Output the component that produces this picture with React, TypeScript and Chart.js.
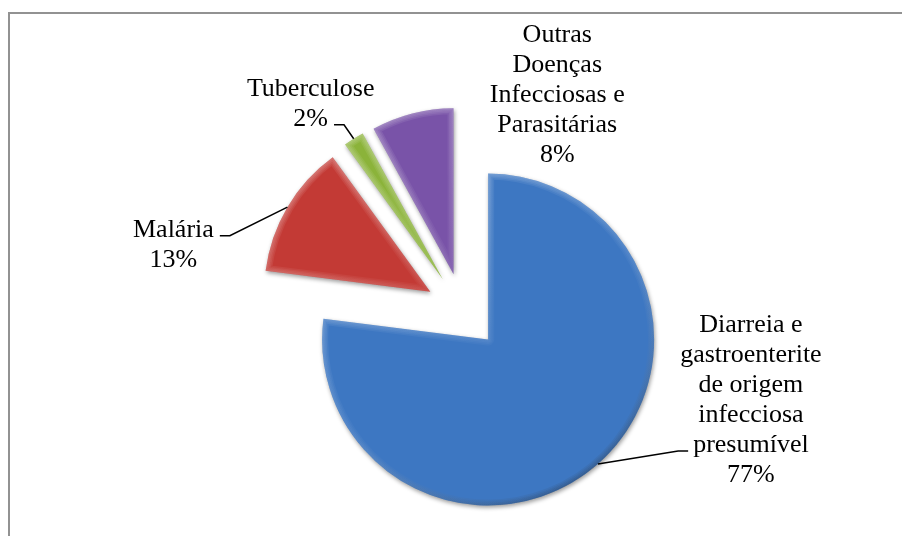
import React, { useEffect, useRef } from "react";
import { Chart, registerables } from "chart.js";

Chart.register(...registerables);

// ---- data ----
const categories = [
  "Diarreia e gastroenterite de origem infecciosa presumível",
  "Malária",
  "Tuberculose",
  "Outras Doenças Infecciosas e Parasitárias",
];
const labelLines = [
  ["Diarreia e", "gastroenterite", "de origem", "infecciosa", "presumível"],
  ["Malária"],
  ["Tuberculose"],
  ["Outras", "Doenças", "Infecciosas e", "Parasitárias"],
];
const values = [77, 13, 2, 8];
const colors = ["#3d77c2", "#c33a35", "#8bb33a", "#7953a8"];

// ---- layout / style ----
const W = 902;
const H = 536;
const EXPLODE = 38;
const FONT = "26px 'Liberation Serif', 'Times New Roman', serif";
const LINE_H = 30;
// label placement relative to the outer mid-point of each slice
const LABEL_LAYOUT = [
  { dx: 153, dy: -132, leader: 4 },
  { dx: -114, dy: 29.5, leader: 0 },
  { dx: -43, dy: -43, leader: 1 },
  { dx: 145, dy: -71, leader: -1 },
];

type Geom = { cx: number; cy: number; r: number; s: number; e: number; mid: number; ox: number; oy: number };

function computeGeoms(chart: any): Geom[] {
  const meta = chart.getDatasetMeta(0);
  return meta.data.map((el: any) => {
    const mid = (el.startAngle + el.endAngle) / 2;
    return {
      cx: el.x + Math.cos(mid) * EXPLODE,
      cy: el.y + Math.sin(mid) * EXPLODE,
      r: el.outerRadius,
      s: el.startAngle,
      e: el.endAngle,
      mid,
      ox: el.x,
      oy: el.y,
    };
  });
}

function slicePath(ctx: CanvasRenderingContext2D, g: Geom) {
  ctx.beginPath();
  ctx.moveTo(g.cx, g.cy);
  ctx.arc(g.cx, g.cy, g.r, g.s, g.e);
  ctx.closePath();
}

const explodePlugin = {
  id: "explodeBevel",
  beforeDatasetDraw(chart: any, args: any) {
    const geoms = computeGeoms(chart);
    chart.$geoms = geoms;
    args.meta.data.forEach((el: any, i: number) => {
      el.x = geoms[i].cx;
      el.y = geoms[i].cy;
    });
    const ctx = chart.ctx;
    ctx.save();
    ctx.shadowColor = "rgba(0,0,0,0.4)";
    ctx.shadowBlur = 4;
    ctx.shadowOffsetX = 1;
    ctx.shadowOffsetY = 2;
  },
  afterDatasetDraw(chart: any, args: any) {
    const ctx: CanvasRenderingContext2D = chart.ctx;
    ctx.restore();
    const geoms: Geom[] = chart.$geoms;
    geoms.forEach((g) => {
      ctx.save();
      slicePath(ctx, g);
      ctx.clip();
      const grad = ctx.createLinearGradient(g.cx - g.r * 0.6, g.cy - g.r, g.cx + g.r * 0.6, g.cy + g.r);
      grad.addColorStop(0, "rgba(255,255,255,0.09)");
      grad.addColorStop(0.5, "rgba(255,255,255,0.03)");
      grad.addColorStop(1, "rgba(0,0,0,0.09)");
      ctx.strokeStyle = grad;
      ctx.lineJoin = "round";
      for (let w = 3; w <= 12; w += 3) {
        ctx.lineWidth = w;
        ctx.stroke();
      }
      ctx.restore();
    });
    args.meta.data.forEach((el: any, i: number) => {
      el.x = geoms[i].ox;
      el.y = geoms[i].oy;
    });
  },
  afterDraw(chart: any) {
    const ctx: CanvasRenderingContext2D = chart.ctx;
    const geoms: Geom[] = chart.$geoms || computeGeoms(chart);
    const data: number[] = chart.data.datasets[0].data;
    const total = data.reduce((a, b) => a + b, 0);
    ctx.save();
    ctx.font = FONT;
    ctx.fillStyle = "#000";
    ctx.textAlign = "center";
    ctx.textBaseline = "alphabetic";
    geoms.forEach((g, i) => {
      const ax = g.cx + g.r * Math.cos(g.mid);
      const ay = g.cy + g.r * Math.sin(g.mid);
      const lay = LABEL_LAYOUT[i];
      const cx = ax + lay.dx;
      const by = ay + lay.dy;
      const lines = [...labelLines[i], Math.round((data[i] / total) * 100) + "%"];
      lines.forEach((t, k) => ctx.fillText(t, cx, by + k * LINE_H));
      if (lay.leader >= 0) {
        const w = ctx.measureText(lines[lay.leader]).width;
        const right = cx > ax;
        const ex = right ? cx - w / 2 - 5 : cx + w / 2 + 6;
        const ey = by + lay.leader * LINE_H - 1;
        const elx = right ? ex - 10 : ex + 10;
        ctx.beginPath();
        ctx.moveTo(ax, ay);
        ctx.lineTo(elx, ey);
        ctx.lineTo(ex, ey);
        ctx.strokeStyle = "#000";
        ctx.lineWidth = 1.5;
        ctx.stroke();
      }
    });
    ctx.restore();
  },
};

export default function App() {
  const ref = useRef<HTMLCanvasElement | null>(null);
  useEffect(() => {
    if (!ref.current) return;
    const chart = new Chart(ref.current, {
      type: "pie",
      data: {
        labels: categories,
        datasets: [
          {
            data: values,
            backgroundColor: colors,
            borderWidth: 0,
            clip: false,
          } as any,
        ],
      },
      options: {
        responsive: false,
        animation: false,
        devicePixelRatio: 1,
        layout: { padding: { left: 163, right: 139, top: 145, bottom: 59 } },
        plugins: { legend: { display: false }, tooltip: { enabled: false } },
        events: [],
      },
      plugins: [explodePlugin],
    });
    return () => chart.destroy();
  }, []);
  return (
    <div style={{ position: "fixed", left: 0, top: 0, width: W, height: H, overflow: "hidden", background: "#fff" }}>
      <div
        style={{
          position: "absolute",
          left: 8,
          top: 12,
          width: 1000,
          height: 1000,
          borderLeft: "2px solid #929292",
          borderTop: "2px solid #929292",
        }}
      />
      <canvas ref={ref} width={W} height={H} style={{ position: "absolute", left: 0, top: 0, width: W, height: H }} />
    </div>
  );
}
